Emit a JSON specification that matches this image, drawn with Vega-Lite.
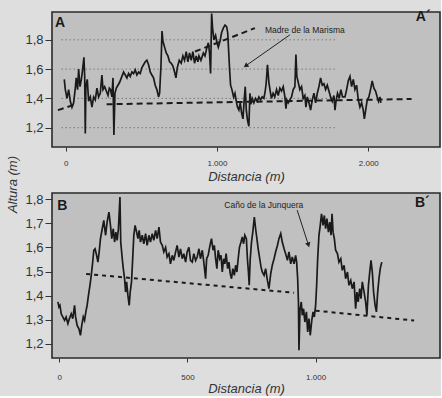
{
  "$schema": "https://vega.github.io/schema/vega-lite/v6.json",
  "background": "#dedede",
  "padding": {"left": 7, "top": 9, "right": 0, "bottom": 0},
  "spacing": 8,
  "title": {"text": "Altura (m)", "orient": "left", "anchor": "middle", "font": "Liberation Sans", "fontSize": 13, "fontStyle": "italic", "fontWeight": "normal", "color": "#333", "offset": 4, "dx": 18},
  "config": {
    "font": "Liberation Sans",
    "view": {"fill": "#c0c0c0", "stroke": "#2a2a2a", "strokeWidth": 1.6},
    "axis": {"domain": false, "grid": false, "tickColor": "#333", "labelColor": "#333", "titleColor": "#333", "labelFont": "Liberation Sans", "titleFont": "Liberation Sans"},
    "axisY": {"labelFontSize": 13, "tickSize": 7, "labelPadding": 2},
    "axisX": {"labelFontSize": 8, "tickSize": 4, "titleFontSize": 13, "titleFontStyle": "italic", "titleFontWeight": "normal"}
  },
  "datasets": {
    "profA": [
      {"d":-9,"h":1.53},{"d":-2,"h":1.46},{"d":9,"h":1.40},{"d":20,"h":1.46},{"d":31,"h":1.38},{"d":42,"h":1.34},{"d":53,"h":1.37},{"d":64,"h":1.47},{"d":70,"h":1.54},{"d":79,"h":1.46},{"d":86,"h":1.60},{"d":95,"h":1.48},{"d":104,"h":1.53},{"d":112,"h":1.595},{"d":121,"h":1.68},{"d":126,"h":1.55},{"d":130,"h":1.16},{"d":134,"h":1.48},{"d":143,"h":1.53},{"d":152,"h":1.38},{"d":163,"h":1.41},{"d":174,"h":1.34},{"d":185,"h":1.41},{"d":196,"h":1.39},{"d":207,"h":1.47},{"d":218,"h":1.41},{"d":229,"h":1.435},{"d":240,"h":1.56},{"d":247,"h":1.46},{"d":258,"h":1.48},{"d":269,"h":1.45},{"d":280,"h":1.42},{"d":289,"h":1.47},{"d":297,"h":1.46},{"d":306,"h":1.41},{"d":313,"h":1.54},{"d":319,"h":1.15},{"d":326,"h":1.435},{"d":335,"h":1.47},{"d":346,"h":1.49},{"d":357,"h":1.51},{"d":372,"h":1.55},{"d":383,"h":1.58},{"d":394,"h":1.56},{"d":405,"h":1.54},{"d":416,"h":1.57},{"d":427,"h":1.55},{"d":438,"h":1.58},{"d":449,"h":1.57},{"d":460,"h":1.595},{"d":471,"h":1.56},{"d":482,"h":1.58},{"d":493,"h":1.57},{"d":504,"h":1.61},{"d":515,"h":1.63},{"d":526,"h":1.65},{"d":537,"h":1.66},{"d":548,"h":1.63},{"d":559,"h":1.58},{"d":570,"h":1.56},{"d":581,"h":1.54},{"d":592,"h":1.49},{"d":603,"h":1.46},{"d":614,"h":1.41},{"d":621,"h":1.435},{"d":630,"h":1.62},{"d":637,"h":1.86},{"d":643,"h":1.79},{"d":654,"h":1.75},{"d":665,"h":1.71},{"d":676,"h":1.69},{"d":687,"h":1.65},{"d":698,"h":1.64},{"d":709,"h":1.62},{"d":720,"h":1.58},{"d":729,"h":1.54},{"d":738,"h":1.61},{"d":751,"h":1.66},{"d":764,"h":1.64},{"d":775,"h":1.69},{"d":786,"h":1.66},{"d":797,"h":1.72},{"d":808,"h":1.65},{"d":819,"h":1.71},{"d":830,"h":1.66},{"d":841,"h":1.72},{"d":852,"h":1.64},{"d":863,"h":1.69},{"d":874,"h":1.65},{"d":881,"h":1.69},{"d":894,"h":1.66},{"d":910,"h":1.71},{"d":921,"h":1.69},{"d":932,"h":1.74},{"d":943,"h":1.78},{"d":951,"h":1.71},{"d":958,"h":1.57},{"d":965,"h":1.98},{"d":971,"h":1.88},{"d":980,"h":1.80},{"d":991,"h":1.83},{"d":1000,"h":1.78},{"d":1009,"h":1.75},{"d":1020,"h":1.79},{"d":1031,"h":1.85},{"d":1042,"h":1.88},{"d":1053,"h":1.90},{"d":1064,"h":1.89},{"d":1071,"h":1.85},{"d":1077,"h":1.73},{"d":1084,"h":1.59},{"d":1090,"h":1.49},{"d":1099,"h":1.46},{"d":1110,"h":1.41},{"d":1119,"h":1.435},{"d":1128,"h":1.38},{"d":1136,"h":1.34},{"d":1145,"h":1.32},{"d":1154,"h":1.37},{"d":1163,"h":1.30},{"d":1172,"h":1.26},{"d":1180,"h":1.39},{"d":1187,"h":1.48},{"d":1194,"h":1.32},{"d":1202,"h":1.25},{"d":1211,"h":1.21},{"d":1218,"h":1.435},{"d":1224,"h":1.36},{"d":1233,"h":1.40},{"d":1244,"h":1.37},{"d":1255,"h":1.40},{"d":1266,"h":1.38},{"d":1277,"h":1.41},{"d":1288,"h":1.39},{"d":1299,"h":1.41},{"d":1310,"h":1.40},{"d":1319,"h":1.45},{"d":1325,"h":1.50},{"d":1334,"h":1.63},{"d":1343,"h":1.51},{"d":1352,"h":1.45},{"d":1360,"h":1.40},{"d":1371,"h":1.435},{"d":1382,"h":1.41},{"d":1394,"h":1.46},{"d":1405,"h":1.42},{"d":1416,"h":1.47},{"d":1427,"h":1.45},{"d":1438,"h":1.48},{"d":1449,"h":1.41},{"d":1456,"h":1.33},{"d":1462,"h":1.39},{"d":1471,"h":1.37},{"d":1482,"h":1.39},{"d":1493,"h":1.41},{"d":1504,"h":1.46},{"d":1515,"h":1.48},{"d":1522,"h":1.70},{"d":1528,"h":1.55},{"d":1537,"h":1.51},{"d":1548,"h":1.46},{"d":1559,"h":1.48},{"d":1570,"h":1.40},{"d":1581,"h":1.42},{"d":1588,"h":1.34},{"d":1597,"h":1.41},{"d":1608,"h":1.37},{"d":1619,"h":1.32},{"d":1630,"h":1.39},{"d":1641,"h":1.435},{"d":1652,"h":1.37},{"d":1663,"h":1.435},{"d":1674,"h":1.48},{"d":1685,"h":1.54},{"d":1696,"h":1.49},{"d":1707,"h":1.50},{"d":1718,"h":1.46},{"d":1729,"h":1.49},{"d":1740,"h":1.45},{"d":1751,"h":1.41},{"d":1762,"h":1.38},{"d":1773,"h":1.42},{"d":1780,"h":1.32},{"d":1788,"h":1.39},{"d":1797,"h":1.435},{"d":1808,"h":1.40},{"d":1819,"h":1.46},{"d":1830,"h":1.41},{"d":1846,"h":1.41},{"d":1857,"h":1.46},{"d":1868,"h":1.52},{"d":1879,"h":1.55},{"d":1890,"h":1.48},{"d":1901,"h":1.53},{"d":1912,"h":1.46},{"d":1923,"h":1.49},{"d":1934,"h":1.39},{"d":1945,"h":1.34},{"d":1956,"h":1.37},{"d":1967,"h":1.32},{"d":1974,"h":1.26},{"d":1983,"h":1.32},{"d":1993,"h":1.39},{"d":2004,"h":1.41},{"d":2015,"h":1.46},{"d":2026,"h":1.52},{"d":2037,"h":1.47},{"d":2048,"h":1.45},{"d":2059,"h":1.41},{"d":2068,"h":1.38},{"d":2077,"h":1.41},{"d":2083,"h":1.37}
    ],
    "profB": [
      {"d":-5,"h":1.374},{"d":-1,"h":1.353},{"d":3,"h":1.36},{"d":8,"h":1.325},{"d":14,"h":1.312},{"d":21,"h":1.298},{"d":27,"h":1.312},{"d":34,"h":1.284},{"d":40,"h":1.305},{"d":47,"h":1.325},{"d":53,"h":1.305},{"d":60,"h":1.36},{"d":64,"h":1.312},{"d":70,"h":1.277},{"d":77,"h":1.263},{"d":83,"h":1.236},{"d":88,"h":1.277},{"d":94,"h":1.312},{"d":99,"h":1.298},{"d":104,"h":1.333},{"d":109,"h":1.36},{"d":114,"h":1.40},{"d":120,"h":1.443},{"d":125,"h":1.484},{"d":130,"h":1.532},{"d":135,"h":1.588},{"d":140,"h":1.594},{"d":146,"h":1.567},{"d":151,"h":1.539},{"d":156,"h":1.581},{"d":161,"h":1.636},{"d":168,"h":1.677},{"d":174,"h":1.712},{"d":181,"h":1.65},{"d":187,"h":1.705},{"d":194,"h":1.746},{"d":200,"h":1.691},{"d":205,"h":1.636},{"d":211,"h":1.677},{"d":216,"h":1.622},{"d":221,"h":1.663},{"d":226,"h":1.629},{"d":231,"h":1.677},{"d":237,"h":1.808},{"d":240,"h":1.622},{"d":246,"h":1.553},{"d":250,"h":1.512},{"d":255,"h":1.47},{"d":259,"h":1.415},{"d":263,"h":1.457},{"d":268,"h":1.401},{"d":273,"h":1.36},{"d":277,"h":1.415},{"d":282,"h":1.457},{"d":286,"h":1.539},{"d":291,"h":1.65},{"d":296,"h":1.691},{"d":302,"h":1.663},{"d":307,"h":1.636},{"d":312,"h":1.67},{"d":317,"h":1.622},{"d":324,"h":1.65},{"d":330,"h":1.615},{"d":337,"h":1.657},{"d":343,"h":1.608},{"d":350,"h":1.65},{"d":356,"h":1.622},{"d":363,"h":1.657},{"d":369,"h":1.629},{"d":376,"h":1.67},{"d":382,"h":1.636},{"d":389,"h":1.684},{"d":395,"h":1.622},{"d":402,"h":1.608},{"d":408,"h":1.581},{"d":415,"h":1.60},{"d":421,"h":1.56},{"d":428,"h":1.574},{"d":434,"h":1.532},{"d":441,"h":1.567},{"d":447,"h":1.546},{"d":454,"h":1.581},{"d":460,"h":1.608},{"d":467,"h":1.56},{"d":473,"h":1.594},{"d":480,"h":1.553},{"d":486,"h":1.574},{"d":493,"h":1.539},{"d":499,"h":1.581},{"d":506,"h":1.60},{"d":512,"h":1.546},{"d":519,"h":1.539},{"d":525,"h":1.574},{"d":532,"h":1.546},{"d":538,"h":1.56},{"d":545,"h":1.594},{"d":551,"h":1.553},{"d":558,"h":1.588},{"d":564,"h":1.539},{"d":571,"h":1.47},{"d":575,"h":1.553},{"d":581,"h":1.567},{"d":588,"h":1.608},{"d":594,"h":1.636},{"d":600,"h":1.588},{"d":605,"h":1.608},{"d":610,"h":1.553},{"d":615,"h":1.512},{"d":620,"h":1.588},{"d":626,"h":1.553},{"d":631,"h":1.567},{"d":636,"h":1.498},{"d":641,"h":1.553},{"d":646,"h":1.532},{"d":651,"h":1.574},{"d":657,"h":1.512},{"d":662,"h":1.539},{"d":667,"h":1.491},{"d":672,"h":1.47},{"d":677,"h":1.512},{"d":683,"h":1.484},{"d":688,"h":1.526},{"d":693,"h":1.498},{"d":698,"h":1.553},{"d":703,"h":1.60},{"d":709,"h":1.622},{"d":714,"h":1.643},{"d":719,"h":1.615},{"d":724,"h":1.65},{"d":730,"h":1.636},{"d":734,"h":1.553},{"d":738,"h":1.498},{"d":741,"h":1.443},{"d":745,"h":1.553},{"d":750,"h":1.622},{"d":755,"h":1.663},{"d":761,"h":1.725},{"d":766,"h":1.677},{"d":771,"h":1.636},{"d":776,"h":1.594},{"d":782,"h":1.553},{"d":787,"h":1.519},{"d":792,"h":1.498},{"d":799,"h":1.484},{"d":805,"h":1.512},{"d":812,"h":1.463},{"d":818,"h":1.429},{"d":825,"h":1.491},{"d":831,"h":1.526},{"d":838,"h":1.553},{"d":844,"h":1.581},{"d":851,"h":1.608},{"d":857,"h":1.636},{"d":864,"h":1.657},{"d":870,"h":1.622},{"d":877,"h":1.594},{"d":883,"h":1.574},{"d":890,"h":1.546},{"d":896,"h":1.581},{"d":903,"h":1.532},{"d":909,"h":1.56},{"d":916,"h":1.532},{"d":922,"h":1.567},{"d":926,"h":1.539},{"d":930,"h":1.47},{"d":933,"h":1.374},{"d":935,"h":1.174},{"d":939,"h":1.34},{"d":944,"h":1.374},{"d":948,"h":1.319},{"d":953,"h":1.346},{"d":958,"h":1.291},{"d":964,"h":1.333},{"d":969,"h":1.25},{"d":974,"h":1.305},{"d":979,"h":1.236},{"d":985,"h":1.298},{"d":990,"h":1.333},{"d":995,"h":1.312},{"d":1000,"h":1.36},{"d":1004,"h":1.443},{"d":1008,"h":1.553},{"d":1013,"h":1.65},{"d":1018,"h":1.691},{"d":1023,"h":1.739},{"d":1029,"h":1.691},{"d":1034,"h":1.732},{"d":1039,"h":1.677},{"d":1044,"h":1.719},{"d":1050,"h":1.663},{"d":1055,"h":1.705},{"d":1060,"h":1.65},{"d":1064,"h":1.739},{"d":1068,"h":1.663},{"d":1073,"h":1.636},{"d":1078,"h":1.588},{"d":1085,"h":1.574},{"d":1091,"h":1.539},{"d":1098,"h":1.553},{"d":1104,"h":1.505},{"d":1111,"h":1.526},{"d":1117,"h":1.47},{"d":1124,"h":1.498},{"d":1130,"h":1.443},{"d":1137,"h":1.463},{"d":1143,"h":1.429},{"d":1150,"h":1.457},{"d":1156,"h":1.346},{"d":1161,"h":1.415},{"d":1166,"h":1.374},{"d":1172,"h":1.429},{"d":1177,"h":1.388},{"d":1182,"h":1.457},{"d":1189,"h":1.415},{"d":1195,"h":1.374},{"d":1200,"h":1.319},{"d":1206,"h":1.443},{"d":1211,"h":1.498},{"d":1216,"h":1.546},{"d":1221,"h":1.498},{"d":1226,"h":1.415},{"d":1232,"h":1.36},{"d":1237,"h":1.333},{"d":1242,"h":1.415},{"d":1247,"h":1.47},{"d":1252,"h":1.512},{"d":1258,"h":1.539}
    ],
    "gridA": [
      {"d":-26,"d2":1790,"h":1.2},{"d":-26,"d2":1790,"h":1.4},{"d":-26,"d2":1790,"h":1.6},{"d":-26,"d2":1790,"h":1.8}
    ],
    "trendA": [
      {"d":-51,"h":1.32,"d2":53,"h2":1.355},
      {"d":271,"h":1.36,"d2":2286,"h2":1.396},
      {"d":855,"h":1.72,"d2":1251,"h2":1.88}
    ],
    "trendB": [
      {"d":105,"h":1.49,"d2":916,"h2":1.412},
      {"d":1000,"h":1.338,"d2":1384,"h2":1.297}
    ],
    "lettersA": [{"d":-37,"h":1.918,"t":"A"},{"d":2363,"h":1.955,"t":"A´"}],
    "lettersB": [{"d":12,"h":1.77,"t":"B"},{"d":1416,"h":1.785,"t":"B´"}],
    "noteA": [{"d":1581,"h":1.864,"t":"Madre de la Marisma"}],
    "arrowA": [{"d":1482,"h":1.834,"d2":1190,"h2":1.622}],
    "headA": [{"d":1190,"h":1.622}],
    "noteB": [{"d":798,"h":1.775,"t":"Caño de la Junquera"}],
    "arrowB": [{"d":928,"h":1.754,"d2":972,"h2":1.61}],
    "headB": [{"d":972,"h":1.61}]
  },
  "vconcat": [
    {
      "width": 388,
      "height": 135,
      "encoding": {
        "x": {"field": "d", "type": "quantitative", "scale": {"domain": [-90, 2474], "nice": false, "zero": false},
              "axis": {"title": "Distancia (m)", "values": [0, 1000, 2000], "labelPadding": 8, "titlePadding": 3,
                       "labelExpr": "replace(format(datum.value, ','), ',', '.')"}},
        "y": {"field": "h", "type": "quantitative", "scale": {"domain": [1.068, 1.99], "nice": false, "zero": false},
              "axis": {"title": null, "values": [1.2, 1.4, 1.6, 1.8],
                       "labelExpr": "replace(format(datum.value, '.1f'), '.', ',')"}}
      },
      "layer": [
        {"data": {"name": "gridA"}, "mark": {"type": "rule", "color": "#555", "strokeWidth": 1, "strokeDash": [1, 3]},
         "encoding": {"x2": {"field": "d2"}}},
        {"data": {"name": "trendA"}, "mark": {"type": "rule", "color": "#1a1a1a", "strokeWidth": 2, "strokeDash": [6, 4]},
         "encoding": {"x2": {"field": "d2"}, "y2": {"field": "h2"}}},
        {"data": {"name": "profA"}, "mark": {"type": "line", "color": "#1a1a1a", "strokeWidth": 1.7}},
        {"data": {"name": "lettersA"}, "mark": {"type": "text", "fontSize": 14, "fontWeight": "bold", "color": "#1a1a1a"},
         "encoding": {"text": {"field": "t"}}},
        {"data": {"name": "noteA"}, "mark": {"type": "text", "fontSize": 8.5, "color": "#222"},
         "encoding": {"text": {"field": "t"}}},
        {"data": {"name": "arrowA"}, "mark": {"type": "rule", "color": "#222", "strokeWidth": 1},
         "encoding": {"x2": {"field": "d2"}, "y2": {"field": "h2"}}},
        {"data": {"name": "headA"}, "mark": {"type": "point", "shape": "triangle-up", "filled": true, "color": "#222", "size": 30, "angle": 235, "opacity": 1}}
      ]
    },
    {
      "width": 388,
      "height": 165,
      "encoding": {
        "x": {"field": "d", "type": "quantitative", "scale": {"domain": [-28, 1485], "nice": false, "zero": false},
              "axis": {"title": "Distancia (m)", "values": [0, 500, 1000], "labelPadding": 11, "titlePadding": 1,
                       "labelExpr": "replace(format(datum.value, ','), ',', '.')"}},
        "y": {"field": "h", "type": "quantitative", "scale": {"domain": [1.142, 1.825], "nice": false, "zero": false},
              "axis": {"title": null, "values": [1.2, 1.3, 1.4, 1.5, 1.6, 1.7, 1.8],
                       "labelExpr": "replace(format(datum.value, '.1f'), '.', ',')"}}
      },
      "layer": [
        {"data": {"name": "trendB"}, "mark": {"type": "rule", "color": "#1a1a1a", "strokeWidth": 2, "strokeDash": [4, 4]},
         "encoding": {"x2": {"field": "d2"}, "y2": {"field": "h2"}}},
        {"data": {"name": "profB"}, "mark": {"type": "line", "color": "#1a1a1a", "strokeWidth": 1.7}},
        {"data": {"name": "lettersB"}, "mark": {"type": "text", "fontSize": 14, "fontWeight": "bold", "color": "#1a1a1a"},
         "encoding": {"text": {"field": "t"}}},
        {"data": {"name": "noteB"}, "mark": {"type": "text", "fontSize": 8.5, "color": "#222"},
         "encoding": {"text": {"field": "t"}}},
        {"data": {"name": "arrowB"}, "mark": {"type": "rule", "color": "#222", "strokeWidth": 1},
         "encoding": {"x2": {"field": "d2"}, "y2": {"field": "h2"}}},
        {"data": {"name": "headB"}, "mark": {"type": "point", "shape": "triangle-up", "filled": true, "color": "#222", "size": 30, "angle": 162, "opacity": 1}}
      ]
    }
  ]
}
